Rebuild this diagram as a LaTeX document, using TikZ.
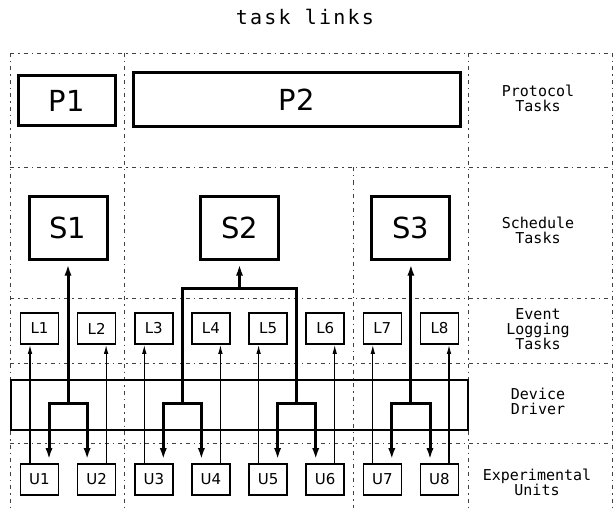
\documentclass[tikz,border=0pt]{standalone}
\usepackage{fontspec}
\usetikzlibrary{arrows.meta,calc}
\newfontfamily\monof{DejaVu Sans Mono}
\newfontfamily\titlef[LetterSpace=11]{DejaVu Sans Mono}
\newfontfamily\boxf{DejaVu Sans}
\begin{document}
\begin{tikzpicture}[x=1pt,y=-1pt,
  gridline/.style={line width=0.6pt, black!75, dash pattern=on 4pt off 4pt on 1.5pt off 4pt},
  bigbox/.style={draw, line width=3pt, inner sep=0pt, font=\boxf\fontsize{29}{29}\selectfont},
  smallbox/.style={draw, line width=1.6pt, minimum width=38pt, minimum height=31pt, inner sep=0pt, font=\boxf\fontsize{15}{15}\selectfont},
  ddbox/.style={draw, line width=1.5pt, minimum width=457pt, minimum height=50pt, inner sep=0pt},
  side/.style={align=center, font=\monof\fontsize{15}{15}\selectfont},
  thk/.style={line width=3pt},
  thn/.style={line width=1.1pt},
  tipthk/.style={-{Latex[length=15pt,width=6.5pt]}},
  tipthkrev/.style={{Latex[length=15pt,width=6.5pt]}-},
  tipthn/.style={-{Latex[length=9pt,width=4.5pt]}}
]
\useasboundingbox (0,0) rectangle (615,513);

% dashed grid
\foreach \yy in {53,167,298,363,443} \draw[gridline] (10,\yy) -- (612,\yy);
\foreach \xx in {10,124,468,612} \draw[gridline] (\xx,53) -- (\xx,508);
\draw[gridline] (353,167) -- (353,508);

% title
\node[font=\titlef\fontsize{20}{20}\selectfont, anchor=base] (title) at (305,25) {task links};

% side labels
\node[side] (lp) at (538,98) {Protocol\\Tasks};
\node[side] (ls) at (538,230) {Schedule\\Tasks};
\node[side] (le) at (538,329) {Event\\Logging\\Tasks};
\node[side] (ld) at (538,401) {Device\\Driver};
\node[side] (lu) at (537,482) {Experimental\\Units};

% protocol tasks
\node[bigbox, minimum width=97pt, minimum height=50pt] (P1) at (66.5,101) {P1};
\node[bigbox, minimum width=327pt, minimum height=54pt] (P2) at (296.5,100) {P2};

% schedule tasks
\node[bigbox, minimum width=78pt, minimum height=63pt] (S1) at (68,227.5) {S1};
\node[bigbox, minimum width=78pt, minimum height=63pt] (S2) at (239.5,227.5) {S2};
\node[bigbox, minimum width=78pt, minimum height=63pt] (S3) at (410.9,227.5) {S3};

% device driver
\node[ddbox] (dd) at (239.5,405) {};

% logging tasks and units
\foreach \i/\x in {1/39.5,2/96.6,3/153.8,4/210.9,5/268.1,6/325.2,7/382.3,8/439.5} {
  \node[smallbox] (L\i) at (\x,328.5) {L\i};
  \node[smallbox] (U\i) at (\x,479.5) {U\i};
}

% thin links unit -> logging task
\foreach \i/\s in {1/-9.5,2/9.5,3/-9.5,4/9.5,5/-9.5,6/9.5,7/-9.5,8/9.5}
  \draw[thn,tipthn] ([xshift=\s pt]U\i.north) -- ([xshift=\s pt]L\i.south);

% junctions
\coordinate (g1) at (68,403);
\coordinate (g2) at (182.3,403);
\coordinate (g3) at (296.6,403);
\coordinate (g4) at (410.9,403);
\coordinate (b2) at (182.3,288);
\coordinate (b3) at (296.6,288);

% S1
\draw[thk,tipthkrev] (S1.south) -- (g1);
\draw[thk,tipthk] (g1) -| ([xshift=9.5pt]U1.north);
\draw[thk,tipthk] (g1) -| ([xshift=-9.5pt]U2.north);

% S2
\draw[thk,tipthkrev] (S2.south) -- (S2.south |- b2);
\draw[thk] (g2) -- (b2) -- (b3) -- (g3);
\draw[thk,tipthk] (g2) -| ([xshift=9.5pt]U3.north);
\draw[thk,tipthk] (g2) -| ([xshift=-9.5pt]U4.north);
\draw[thk,tipthk] (g3) -| ([xshift=9.5pt]U5.north);
\draw[thk,tipthk] (g3) -| ([xshift=-9.5pt]U6.north);

% S3
\draw[thk,tipthkrev] (S3.south) -- (g4);
\draw[thk,tipthk] (g4) -| ([xshift=9.5pt]U7.north);
\draw[thk,tipthk] (g4) -| ([xshift=-9.5pt]U8.north);
\end{tikzpicture}
\end{document}
